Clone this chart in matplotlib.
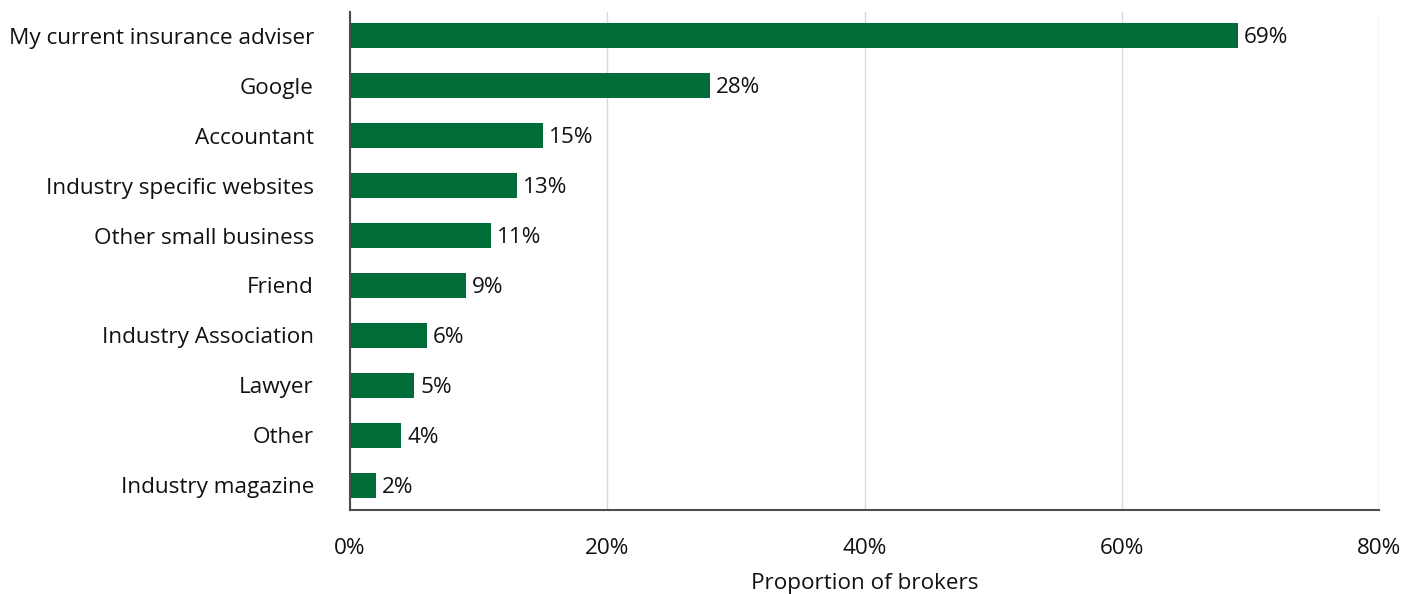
import matplotlib.pyplot as plt
from matplotlib.ticker import FuncFormatter

plt.rcParams['font.family'] = ['Open Sans', 'DejaVu Sans']

# Where brokers look for information
sources = ['My current insurance adviser', 'Google', 'Accountant',
           'Industry specific websites', 'Other small business', 'Friend',
           'Industry Association', 'Lawyer', 'Other', 'Industry magazine']
shares = [69, 28, 15, 13, 11, 9, 6, 5, 4, 2]

bar_color = '#006d38'
text_color = '#111111'
fsize = 16.2

fig = plt.figure(figsize=(14.19, 5.94), dpi=100)
ax = fig.add_axes([350 / 1419, 1 - 510 / 594, 1029 / 1419, 498 / 594])

ypos = list(range(len(sources)))
ax.barh(ypos, shares, height=0.5, color=bar_color, zorder=3)

for y, v in zip(ypos, shares):
    ax.text(v + 0.45, y + 0.04, f'{v}%', va='center', ha='left',
            fontsize=fsize, color=text_color, zorder=4)

ax.set_xlim(0, 80)
ax.set_ylim(len(sources) - 0.5, -0.48)
ax.set_xticks([0, 20, 40, 60, 80])
ax.xaxis.set_major_formatter(FuncFormatter(lambda x, _: f'{x:.0f}%'))
ax.set_yticks(ypos)
ax.set_yticklabels(sources)

ax.grid(axis='x', color='#d9d9d9', linewidth=1, zorder=0)
ax.tick_params(axis='both', length=0, labelsize=fsize, colors=text_color)
ax.tick_params(axis='y', pad=26)
ax.tick_params(axis='x', pad=20)

for side in ['top', 'right']:
    ax.spines[side].set_visible(False)
for side in ['left', 'bottom']:
    ax.spines[side].set_color('#4d4d4d')
    ax.spines[side].set_linewidth(1.5)
    ax.spines[side].set_zorder(5)

ax.set_xlabel('Proportion of brokers', fontsize=fsize, color=text_color, labelpad=10)

fig.savefig('out.png', dpi=100)
